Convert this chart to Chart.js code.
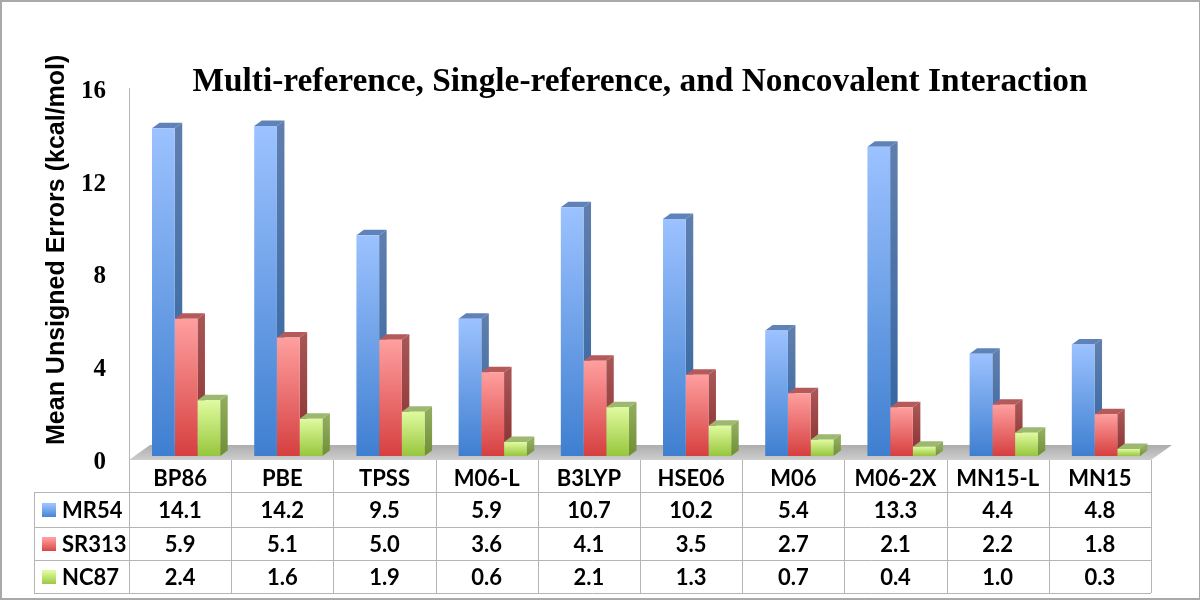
<!DOCTYPE html>
<html>
<head>
<meta charset="utf-8">
<script src="https://cdn.jsdelivr.net/npm/chart.js@4"></script>
<style>
  html, body { margin: 0; background: #fff; }
  #wrap { position: relative; width: 1200px; height: 600px; }
  #frame { position: absolute; inset: 0; border: 2px solid #a9a9a9; border-right-width: 1px; box-sizing: border-box; pointer-events: none; }
</style>
</head>
<body>
<div id="wrap">
  <canvas id="chart" width="1200" height="600"></canvas>
  <div id="frame"></div>
</div>
<script>
const categories = ['BP86', 'PBE', 'TPSS', 'M06-L', 'B3LYP', 'HSE06', 'M06', 'M06-2X', 'MN15-L', 'MN15'];
const mr54 = [14.1, 14.2, 9.5, 5.9, 10.7, 10.2, 5.4, 13.3, 4.4, 4.8];
const sr313 = [5.9, 5.1, 5.0, 3.6, 4.1, 3.5, 2.7, 2.1, 2.2, 1.8];
const nc87 = [2.4, 1.6, 1.9, 0.6, 2.1, 1.3, 0.7, 0.4, 1.0, 0.3];
const seriesNames = ['MR54', 'SR313', 'NC87'];
const yTicks = [0, 4, 8, 12, 16];

// top / bottom of the front gradient, then side gradient and top face
const palette = [
  { hi: '#9cc2ff', lo: '#3f7fd0', sideHi: '#5f7eae', sideLo: '#2f64a0', top: '#5f83b8' },
  { hi: '#ff9f9f', lo: '#d63f3f', sideHi: '#a85555', sideLo: '#8a2f2f', top: '#b55a5a' },
  { hi: '#e0fb9f', lo: '#97c63d', sideHi: '#8fac5c', sideLo: '#6f8f35', top: '#9db870' }
];

const DX = 7.5, DY = 5.5;      // depth of the 3d bars
const DROP = 3;                // chart area sits lower than the drawn axis so tick labels line up
const SHIFT_X = 6, SHIFT_Y = -4 - DROP; // bars stand a bit inside the floor
const FLOOR = 21;              // floor depth in x, 15 in y
const tableFont = 'bold 22px Lato';
const tableLine = '#b5b5b5';
const rowLines = [492, 527, 560, 593];

function frontGradient(ctx, i) {
  const chart = ctx.chart;
  if (ctx.type !== 'data' || !Number.isFinite(ctx.parsed && ctx.parsed.y)) return palette[i].lo;
  const yTop = chart.scales.y.getPixelForValue(ctx.parsed.y);
  const yBase = chart.scales.y.getPixelForValue(0);
  if (!Number.isFinite(yTop) || !Number.isFinite(yBase)) return palette[i].lo;
  const g = chart.ctx.createLinearGradient(0, yTop, 0, yBase);
  g.addColorStop(0, palette[i].hi);
  g.addColorStop(1, palette[i].lo);
  return g;
}

function poly(c, pts, fill) {
  c.fillStyle = fill;
  c.beginPath();
  pts.forEach((p, i) => i ? c.lineTo(p[0], p[1]) : c.moveTo(p[0], p[1]));
  c.closePath();
  c.fill();
}

const bars3d = {
  id: 'bars3d',
  beforeDatasetsDraw(chart) {
    const c = chart.ctx, a = chart.chartArea;
    const bottom = a.bottom - DROP, top = a.top - DROP;
    // value axis line
    c.strokeStyle = tableLine;
    c.lineWidth = 1;
    c.beginPath();
    c.moveTo(a.left + 0.5, top);
    c.lineTo(a.left + 0.5, bottom);
    c.stroke();
    // floor
    const g = c.createLinearGradient(0, bottom - 15, 0, bottom);
    g.addColorStop(0, '#adadad');
    g.addColorStop(1, '#cdcdcd');
    poly(c, [[a.left, bottom], [a.left + FLOOR, bottom - 15], [a.right + FLOOR, bottom - 15], [a.right, bottom]], g);
    c.save();
    c.translate(SHIFT_X, SHIFT_Y);
    // side and top faces first, the library paints the fronts over them
    chart.data.datasets.forEach((ds, i) => {
      chart.getDatasetMeta(i).data.forEach(bar => {
        const half = bar.width / 2;
        const l = bar.x - half, r = bar.x + half;
        const side = c.createLinearGradient(0, bar.y, 0, bar.base);
        side.addColorStop(0, palette[i].sideHi);
        side.addColorStop(1, palette[i].sideLo);
        poly(c, [[r, bar.y], [r + DX, bar.y - DY], [r + DX, bar.base - DY], [r, bar.base]], side);
        poly(c, [[l, bar.y], [l + DX, bar.y - DY], [r + DX, bar.y - DY], [r, bar.y]], palette[i].top);
      });
    });
  },
  afterDatasetsDraw(chart) {
    chart.ctx.restore();
  }
};

const dataTable = {
  id: 'dataTable',
  afterDraw(chart) {
    const c = chart.ctx, a = chart.chartArea, x = chart.scales.x;
    const rows = [mr54, sr313, nc87];
    const colW = (a.right - a.left) / categories.length;
    c.save();
    c.strokeStyle = tableLine;
    c.lineWidth = 1;
    c.beginPath();
    for (let i = 0; i <= categories.length; i++) {
      const px = Math.round(a.left + colW * i) + 0.5;
      c.moveTo(px, a.bottom - DROP);
      c.lineTo(px, rowLines[3]);
    }
    rowLines.forEach(y => {
      c.moveTo(34, y + 0.5);
      c.lineTo(a.right, y + 0.5);
    });
    c.moveTo(34.5, rowLines[0]);
    c.lineTo(34.5, rowLines[3]);
    c.stroke();

    c.font = tableFont;
    c.textBaseline = 'middle';
    rows.forEach((vals, r) => {
      const y = (rowLines[r] + rowLines[r + 1]) / 2 + 1.5;
      const g = c.createLinearGradient(0, y - 7, 0, y + 7);
      g.addColorStop(0, palette[r].hi);
      g.addColorStop(1, palette[r].lo);
      c.fillStyle = g;
      c.fillRect(42, y - 8, 14, 14);
      c.fillStyle = '#000';
      c.textAlign = 'left';
      c.fillText(seriesNames[r], 62, y);
      c.textAlign = 'center';
      vals.forEach((v, i) => c.fillText(v.toFixed(1), x.getPixelForTick(i), y));
    });
    // value axis title
    c.translate(57, 445);
    c.rotate(-Math.PI / 2);
    c.font = 'bold 25px "Liberation Sans"';
    c.textAlign = 'left';
    c.fillText('Mean Unsigned Errors (kcal/mol)', 0, 0);
    c.restore();
  }
};

new Chart(document.getElementById('chart'), {
  type: 'bar',
  data: {
    labels: categories,
    datasets: [mr54, sr313, nc87].map((data, i) => ({
      label: seriesNames[i],
      data,
      backgroundColor: ctx => frontGradient(ctx, i),
      borderWidth: 0,
      categoryPercentage: 0.667,
      barPercentage: 1
    }))
  },
  options: {
    responsive: false,
    animation: false,
    layout: { padding: { left: 0, right: 49, top: 0, bottom: 0 } },
    plugins: {
      legend: { display: false },
      tooltip: { enabled: false },
      title: {
        display: true,
        text: 'Multi-reference, Single-reference, and Noncovalent Interaction',
        color: '#000',
        font: { family: '"Liberation Serif"', size: 33.4, weight: 'bold', lineHeight: 1.2 },
        fullSize: false,
        padding: { top: 62, bottom: -11 }
      }
    },
    scales: {
      x: {
        grid: { display: false },
        border: { display: false },
        ticks: {
          color: '#000',
          padding: -5,
          maxRotation: 0,
          autoSkip: false,
          font: { family: 'Lato', size: 22, weight: 'bold' }
        },
        afterFit(s) { s.height = 137; }
      },
      y: {
        min: 0,
        max: 16,
        grid: { display: false },
        border: { display: false },
        afterBuildTicks(s) { s.ticks = yTicks.map(value => ({ value })); },
        afterFit(s) { s.width = 129; },
        ticks: {
          color: '#000',
          padding: 15,
          font: { family: '"Liberation Serif"', size: 25, weight: 'bold' }
        }
      }
    }
  },
  plugins: [bars3d, dataTable]
});
</script>
</body>
</html>
